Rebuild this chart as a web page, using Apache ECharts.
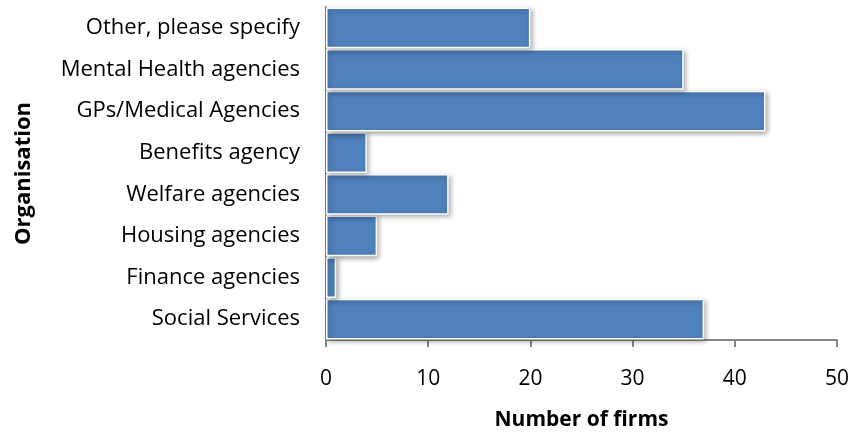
<!DOCTYPE html>
<html>
<head>
<meta charset="utf-8">
<script src="https://cdn.jsdelivr.net/npm/echarts@6/dist/echarts.min.js"></script>
<style>
  html, body { margin: 0; padding: 0; background: #fff; }
  #chart { width: 853px; height: 436px; }
</style>
</head>
<body>
<div id="chart"></div>
<script>
// Organisations, listed bottom to top as drawn on the category axis
const organisations = [
  'Social Services',
  'Finance agencies',
  'Housing agencies',
  'Welfare agencies',
  'Benefits agency',
  'GPs/Medical Agencies',
  'Mental Health agencies',
  'Other, please specify'
];
// Number of firms referring to each organisation
const firmCounts = [37, 1, 5, 12, 4, 43, 35, 20];
const xTicks = { min: 0, max: 50, interval: 10 };

const FONT = '"Open Sans", sans-serif';
const axisGrey = '#868686';

const chart = echarts.init(document.getElementById('chart'), null, { renderer: 'canvas' });
chart.setOption({
  animation: false,
  grid: { left: 326, right: 16, top: 7, bottom: 90, containLabel: false },
  xAxis: {
    type: 'value',
    min: xTicks.min, max: xTicks.max, interval: xTicks.interval,
    name: 'Number of firms',
    nameLocation: 'middle',
    nameGap: 70,
    nameTextStyle: { fontFamily: FONT, fontSize: 21, fontWeight: 'bold', color: '#000' },
    axisLine: { show: true, lineStyle: { color: axisGrey, width: 2 } },
    axisTick: { show: true, length: 7, lineStyle: { color: axisGrey, width: 2 } },
    axisLabel: { fontFamily: FONT, fontSize: 21, color: '#000', margin: 29 },
    splitLine: { show: false }
  },
  yAxis: {
    type: 'category',
    data: organisations,
    name: 'Organisation',
    nameLocation: 'middle',
    nameGap: 291,
    nameRotate: 90,
    nameTextStyle: { fontFamily: FONT, fontSize: 22, fontWeight: 'bold', color: '#000' },
    axisLine: { show: true, lineStyle: { color: axisGrey, width: 2 } },
    axisTick: { show: false },
    axisLabel: { fontFamily: FONT, fontSize: 22, color: '#000', margin: 26 },
    splitLine: { show: false }
  },
  series: [{
    type: 'bar',
    data: firmCounts,
    barCategoryGap: '2%',
    itemStyle: {
      color: '#4f81bd',
      borderColor: '#ffffff',
      borderWidth: 1.5,
      shadowBlur: 5,
      shadowColor: 'rgba(0,0,0,0.35)',
      shadowOffsetX: 2,
      shadowOffsetY: 2
    }
  }]
});
</script>
</body>
</html>
